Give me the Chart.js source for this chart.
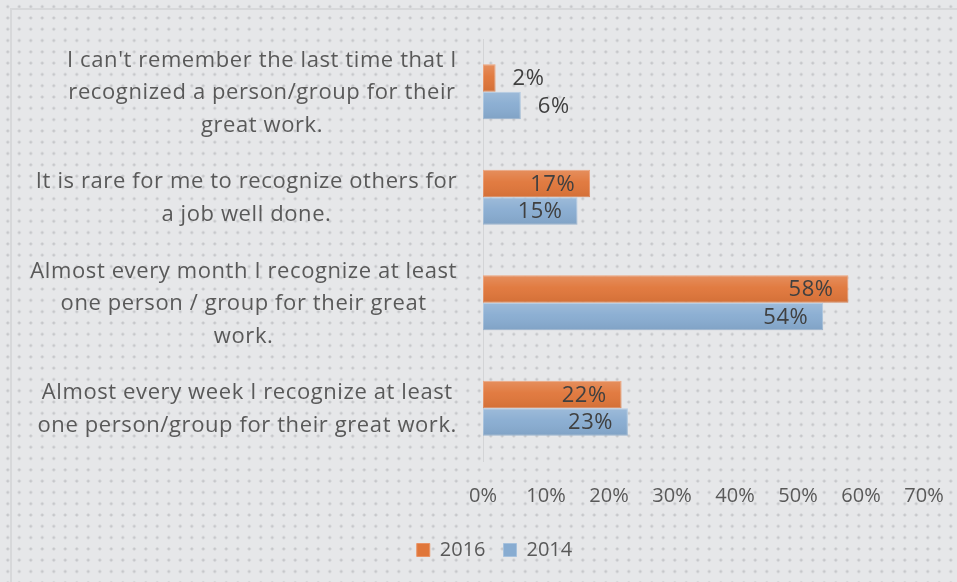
<!DOCTYPE html>
<html lang="en">
<head>
    <meta charset="UTF-8">
    <title>Recognition 2016 vs 2014</title>
    <script src="https://cdn.jsdelivr.net/npm/chart.js@4.4.1/dist/chart.umd.min.js"></script>
    <style>
        html, body { margin: 0; padding: 0; }
        body {
            width: 957px; height: 582px; overflow: hidden; position: relative;
            background-color: #e6e7e9;
            background-image: radial-gradient(circle, #c6c7ca 1.1px, rgba(0,0,0,0) 1.8px);
            background-size: 11.5px 11.3px;
            background-position: 2px 1px;
        }
        #frame {
            position: absolute; left: 10px; top: 8px; width: 960px; height: 590px;
            border-left: 2px solid #d7d8da; border-top: 2px solid #d7d8da;
        }
        #container { position: absolute; left: 0; top: 0; width: 957px; height: 582px; }
    </style>
</head>
<body>
<div id="frame"></div>
<div id="container">
    <canvas id="myChart"></canvas>
</div>

<script>
    // data
    var categories = [
        ["I can't remember the last time that I", "recognized a person/group for their", "great work."],
        ["It is rare for me to recognize others for", "a job well done."],
        ["Almost every month I recognize at least", "one person / group for their great", "work."],
        ["Almost every week I recognize at least", "one person/group for their great work."]
    ];
    var seriesNames = ["2016", "2014"];
    var values2016 = [2, 17, 58, 22];
    var values2014 = [6, 15, 54, 23];
    var axisMax = 70;
    var axisStep = 10;

    var FONT = "'Open Sans', sans-serif";
    var TEXT = '#595959';

    // category labels: each block centred on its longest line, block right aligned
    var categoryLabels = {
        id: 'categoryLabels',
        afterDraw: function (chart) {
            var ctx = chart.ctx;
            var yScale = chart.scales.y;
            var right = chart.chartArea.left - 26;
            var lineH = 32.5;
            ctx.save();
            ctx.font = '22px ' + FONT;
            ctx.letterSpacing = '0.6px';
            ctx.fillStyle = TEXT;
            ctx.textAlign = 'center';
            ctx.textBaseline = 'middle';
            categories.forEach(function (lines, i) {
                var w = 0;
                lines.forEach(function (l) { w = Math.max(w, ctx.measureText(l).width); });
                var cx = right - w / 2;
                var cy = yScale.getPixelForValue(i) + 1;
                lines.forEach(function (l, j) {
                    ctx.fillText(l, cx, cy + (j - (lines.length - 1) / 2) * lineH);
                });
            });
            ctx.restore();
        }
    };

    // shading on the bars + value labels
    var barDecor = {
        id: 'barDecor',
        afterDatasetsDraw: function (chart) {
            var ctx = chart.ctx;
            ctx.save();
            chart.data.datasets.forEach(function (ds, di) {
                var meta = chart.getDatasetMeta(di);
                meta.data.forEach(function (bar, i) {
                    var p = bar.getProps(['x', 'y', 'base', 'height'], true);
                    var top = p.y - p.height / 2;
                    var g = ctx.createLinearGradient(0, top, 0, top + p.height);
                    g.addColorStop(0, 'rgba(255,255,255,0.18)');
                    g.addColorStop(0.45, 'rgba(255,255,255,0.04)');
                    g.addColorStop(1, 'rgba(0,0,0,0.06)');
                    ctx.fillStyle = g;
                    ctx.fillRect(p.base, top, p.x - p.base, p.height);

                    var txt = ds.data[i] + '%';
                    ctx.font = '22px ' + FONT;
                    ctx.letterSpacing = '0.5px';
                    ctx.fillStyle = '#404040';
                    ctx.textBaseline = 'middle';
                    var tw = ctx.measureText(txt).width;
                    if (tw + 20 < p.x - p.base) {
                        ctx.textAlign = 'right';
                        ctx.fillText(txt, p.x - 15, p.y + 1);
                    } else {
                        ctx.textAlign = 'left';
                        ctx.fillText(txt, p.x + 17, p.y + 1);
                    }
                });
            });
            ctx.restore();
        }
    };

    var ctx = document.getElementById('myChart');

    var myChart = new Chart(ctx, {
        type: 'bar',
        data: {
            labels: categories,
            datasets: [
                {
                    label: seriesNames[0],
                    data: values2016,
                    backgroundColor: '#e0763a',
                    borderColor: '#e99366',
                    borderWidth: 1,
                    borderSkipped: false,
                    categoryPercentage: 0.52,
                    barPercentage: 1.0
                },
                {
                    label: seriesNames[1],
                    data: values2014,
                    backgroundColor: '#88acd1',
                    borderColor: '#a6c1dd',
                    borderWidth: 1,
                    borderSkipped: false,
                    categoryPercentage: 0.52,
                    barPercentage: 1.0
                }
            ]
        },
        options: {
            indexAxis: 'y',
            responsive: true,
            maintainAspectRatio: false,
            animation: false,
            layout: { padding: { left: 65, right: 33, top: 39, bottom: 12 } },
            scales: {
                x: {
                    min: 0,
                    max: axisMax,
                    grid: { display: false, drawTicks: false },
                    border: { display: false },
                    ticks: {
                        stepSize: axisStep,
                        padding: 23,
                        color: TEXT,
                        font: { family: FONT, size: 20 },
                        callback: function (v) { return v + '%'; }
                    },
                    afterFit: function (scale) {
                        scale.height = 61;
                        scale.paddingLeft = 0;
                        scale.paddingRight = 0;
                    }
                },
                y: {
                    grid: { display: false, drawTicks: false },
                    border: { display: true, color: '#d3d4d6', width: 1 },
                    ticks: { display: false },
                    afterFit: function (scale) { scale.width = 418; }
                }
            },
            plugins: {
                legend: {
                    position: 'bottom',
                    labels: {
                        boxWidth: 13,
                        boxHeight: 13,
                        padding: 18,
                        color: TEXT,
                        font: { family: FONT, size: 20 }
                    }
                },
                tooltip: { enabled: false }
            }
        },
        plugins: [categoryLabels, barDecor]
    });
</script>

</body>
</html>
